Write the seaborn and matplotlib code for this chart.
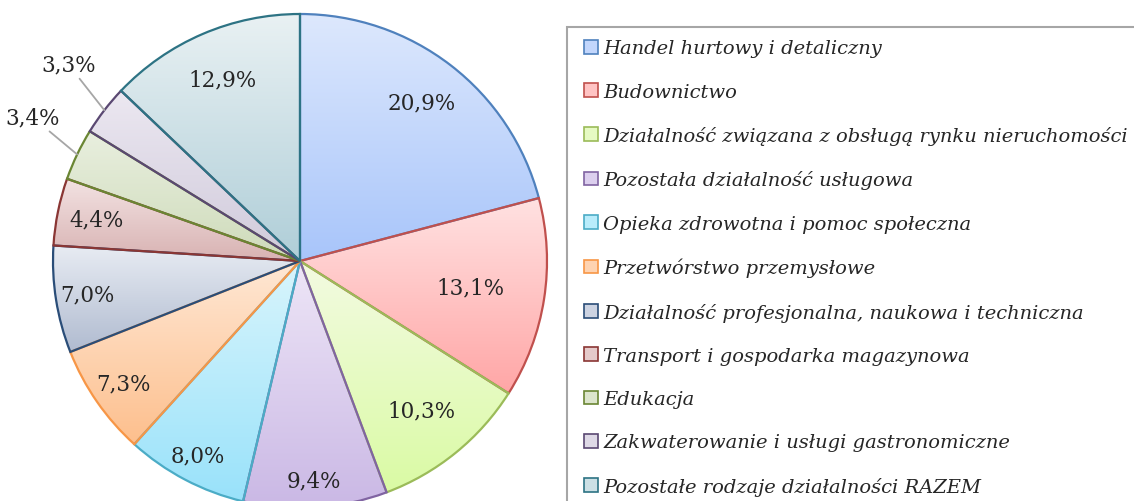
import numpy as np
import matplotlib
matplotlib.use("Agg")
import matplotlib.pyplot as plt
import matplotlib.colors as mcolors
from matplotlib.patches import Patch, Rectangle
import seaborn as sns

# data
sectors = [
    "Handel hurtowy i detaliczny",
    "Budownictwo",
    "Działalność związana z obsługą rynku nieruchomości",
    "Pozostała działalność usługowa",
    "Opieka zdrowotna i pomoc społeczna",
    "Przetwórstwo przemysłowe",
    "Działalność profesjonalna, naukowa i techniczna",
    "Transport i gospodarka magazynowa",
    "Edukacja",
    "Zakwaterowanie i usługi gastronomiczne",
    "Pozostałe rodzaje działalności RAZEM",
]
shares = [20.9, 13.1, 10.3, 9.4, 8.0, 7.3, 7.0, 4.4, 3.4, 3.3, 12.9]

# styles
edge_colors = ["#4F81BD", "#C0504D", "#9BBB59", "#8064A2", "#4BACC6", "#F79646",
               "#2A4D78", "#8A3634", "#6A8633", "#5A4872", "#2D7384"]
top_colors = ["#DDE8FD", "#FFE2E2", "#F3FBE2", "#EEE6F7", "#D9F5FC", "#FFE8D5",
              "#E8ECF3", "#F3E3E3", "#E9EFDF", "#ECE8F1", "#E9F1F3"]
bottom_colors = ["#A8C5FA", "#FFA6A6", "#DAFAA4", "#CAB8E5", "#99E2FA", "#FDBF8D",
                 "#B0BBD0", "#D8B2B2", "#CEDBBA", "#D0CADB", "#AFCED8"]
label_r = [0.81, 0.70, 0.78, 0.89, 0.89, 0.87, 0.87, 0.84, None, None, 0.80]

sns.set_theme(style="white")
plt.rcParams["font.family"] = ["DejaVu Serif"]

fig = plt.figure(figsize=(11.34, 5.02), dpi=100)
R = 1.1
half = 247 * R
ax = fig.add_axes([(300 - half) / 1134, (502 - 262 - half) / 502, 2 * half / 1134, 2 * half / 502])

wedges, _ = ax.pie(shares, startangle=90, counterclock=False,
                   wedgeprops=dict(linewidth=1.6))
ax.set_aspect("equal")
ax.axis("off")

for w, ec, c1, c2 in zip(wedges, edge_colors, top_colors, bottom_colors):
    bb = w.get_path().get_extents()
    a = np.array(mcolors.to_rgb(c1))
    b = np.array(mcolors.to_rgb(c2))
    t = np.linspace(0, 1, 256)[:, None]
    grad = (a * (1 - t) + b * t)[:, None, :]
    im = ax.imshow(grad, extent=(bb.x0, bb.x1, bb.y0, bb.y1), origin="upper",
                   aspect="auto", interpolation="bilinear", zorder=1)
    im.set_clip_path(w)
    w.set_facecolor("none")
    w.set_edgecolor(ec)
    w.set_zorder(2)

ax.set_xlim(-R, R)
ax.set_ylim(-R, R)

for w, v, r in zip(wedges, shares, label_r):
    mid = np.deg2rad((w.theta1 + w.theta2) / 2)
    txt = f"{v:.1f}%".replace(".", ",")
    if r is not None:
        ax.text(r * np.cos(mid), r * np.sin(mid), txt, ha="center", va="center",
                fontsize=15.5, zorder=3)
    else:
        tm = mid - np.deg2rad(2.7)
        ax.annotate(txt, xy=(np.cos(mid), np.sin(mid)),
                    xytext=(1.23 * np.cos(tm), 1.23 * np.sin(tm)),
                    ha="center", va="center", fontsize=15.5, zorder=3,
                    annotation_clip=False,
                    arrowprops=dict(arrowstyle="-", color="#A6A6A6", lw=1.3,
                                    shrinkA=0, shrinkB=0))

# legend frame runs past the figure edge like in the original
fig.patches.append(Rectangle((567 / 1134, -0.1), 0.6, 1.1 - 28 / 502,
                             transform=fig.transFigure, fill=False,
                             edgecolor="#A6A6A6", linewidth=1.5))

handles = [Patch(facecolor=mcolors.to_hex((np.array(mcolors.to_rgb(a)) + np.array(mcolors.to_rgb(b))) / 2),
                 edgecolor=e, linewidth=1.2)
           for a, b, e in zip(top_colors, bottom_colors, edge_colors)]
leg = fig.legend(handles, sectors, loc="upper left",
                 bbox_to_anchor=(584 / 1134, 1 - 40.5 / 502),
                 prop=dict(family="DejaVu Serif", style="italic", size=14),
                 frameon=False,
                 handlelength=0.7, handleheight=0.7, handletextpad=0.3,
                 labelspacing=1.3, borderpad=0, borderaxespad=0)

fig.savefig("out.png", dpi=100)
